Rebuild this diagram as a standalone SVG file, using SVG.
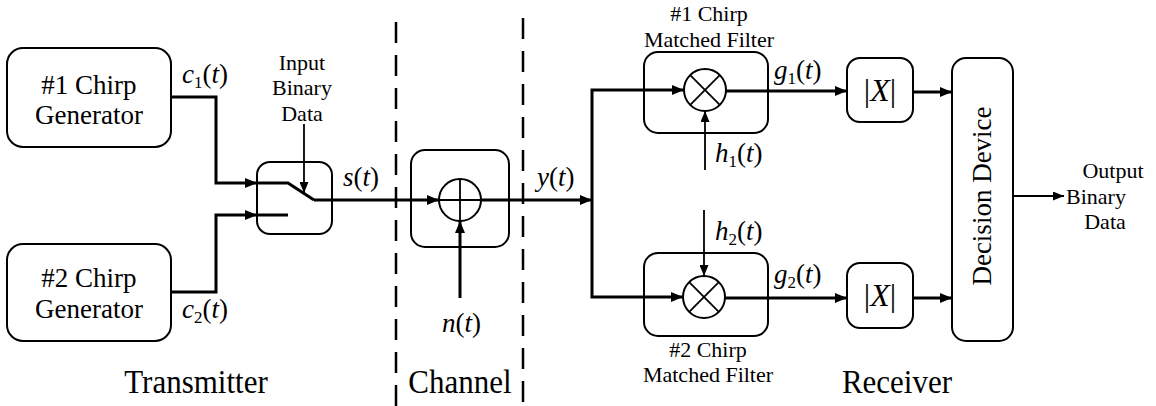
<svg xmlns="http://www.w3.org/2000/svg" width="1156" height="406" viewBox="0 0 1156 406" font-family="Liberation Serif">
<defs>
<marker id="ah" viewBox="0 0 12 10" refX="12" refY="5" markerWidth="12" markerHeight="10" markerUnits="userSpaceOnUse" orient="auto"><path d="M0,0 L12,5 L0,10 z" fill="#000"/></marker>
<marker id="ahs" viewBox="0 0 11 9" refX="11" refY="4.5" markerWidth="11" markerHeight="9" markerUnits="userSpaceOnUse" orient="auto"><path d="M0,0 L11,4.5 L0,9 z" fill="#000"/></marker>
</defs>
<style>
text{font-family:"Liberation Serif","Times New Roman",serif;fill:#000}
.box{fill:#fff;stroke:#000;stroke-width:2}
.lbl{font-size:27px;text-anchor:middle}
.sm{font-size:22px;text-anchor:middle}
.big{font-size:31px;text-anchor:middle}
.m{font-size:27px}
.ab{font-size:32px;text-anchor:middle}
.i{font-style:italic}
.sub{font-size:17px}
.thick{fill:none;stroke:#000;stroke-width:3}
.thin{fill:none;stroke:#000;stroke-width:1.8}
.dash{fill:none;stroke:#000;stroke-width:2.5;stroke-dasharray:21 12}
.circ{fill:#fff;stroke:#000;stroke-width:2}
</style>
<rect width="1156" height="406" fill="#fff"/>

<g id="dividers">
<line class="dash" x1="396" y1="22" x2="396" y2="406"/>
<line class="dash" x1="523" y1="18" x2="523" y2="406"/>
</g>

<g id="gen1">
<rect class="box" x="7" y="48" width="164" height="99" rx="16"/>
<text class="lbl" x="89" y="94">#1 Chirp</text>
<text class="lbl" x="89" y="124">Generator</text>
</g>
<g id="gen2">
<rect class="box" x="7" y="244" width="164" height="97" rx="16"/>
<text class="lbl" x="89" y="287">#2 Chirp</text>
<text class="lbl" x="89" y="318">Generator</text>
</g>

<g id="switch">
<rect class="box" x="257" y="162" width="75" height="72" rx="13"/>
</g>

<g id="adder">
<rect class="box" x="411" y="150" width="98" height="97" rx="14"/>
<circle class="circ" cx="460" cy="200" r="21"/>
<line class="thin" x1="460" y1="179" x2="460" y2="221"/>
<line class="thin" x1="439" y1="200" x2="481" y2="200"/>
</g>

<g id="mf1">
<rect class="box" x="644" y="52" width="124" height="81" rx="14"/>
<circle class="circ" cx="705" cy="90" r="21"/>
<line class="thin" x1="690.2" y1="75.2" x2="719.8" y2="104.8"/>
<line class="thin" x1="719.8" y1="75.2" x2="690.2" y2="104.8"/>
</g>
<g id="mf2">
<rect class="box" x="644" y="253" width="124" height="83" rx="14"/>
<circle class="circ" cx="704" cy="297" r="21"/>
<line class="thin" x1="689.2" y1="282.2" x2="718.8" y2="311.8"/>
<line class="thin" x1="718.8" y1="282.2" x2="689.2" y2="311.8"/>
</g>

<g id="abs1">
<rect class="box" x="847" y="58" width="66" height="64" rx="13"/>
<text class="ab" x="880" y="101">|<tspan class="i">X</tspan>|</text>
</g>
<g id="abs2">
<rect class="box" x="847" y="263" width="66" height="65" rx="13"/>
<text class="ab" x="880" y="306">|<tspan class="i">X</tspan>|</text>
</g>

<g id="decision">
<rect class="box" x="952" y="58" width="61" height="283" rx="14"/>
<text class="lbl" transform="translate(991,196) rotate(-90)" x="0" y="0">Decision Device</text>
</g>

<g id="connectors">
<polyline class="thick" points="171,97 216,97 216,183 257,183" marker-end="url(#ah)"/>
<polyline class="thick" points="171,292 216,292 216,215 257,215" marker-end="url(#ah)"/>
<polyline class="thick" points="257,183 288,183 314,200"/>
<line class="thick" x1="257" y1="215" x2="288" y2="215"/>
<line class="thin" x1="304" y1="124" x2="304" y2="193" marker-end="url(#ahs)"/>
<line class="thick" x1="314" y1="200" x2="439" y2="200" marker-end="url(#ah)"/>
<line class="thick" x1="460" y1="298" x2="460" y2="221" marker-end="url(#ah)"/>
<line class="thick" x1="481" y1="200" x2="592" y2="200" marker-end="url(#ah)"/>
<polyline class="thick" points="592,200 592,90 684,90" marker-end="url(#ah)"/>
<polyline class="thick" points="592,200 592,297 683,297" marker-end="url(#ah)"/>
<line class="thin" x1="705" y1="170" x2="705" y2="111" marker-end="url(#ahs)"/>
<line class="thin" x1="704" y1="210" x2="704" y2="276" marker-end="url(#ahs)"/>
<line class="thick" x1="726" y1="91" x2="847" y2="91" marker-end="url(#ah)"/>
<line class="thick" x1="725" y1="298" x2="847" y2="298" marker-end="url(#ah)"/>
<line class="thick" x1="913" y1="92" x2="952" y2="92" marker-end="url(#ah)"/>
<line class="thick" x1="913" y1="298" x2="952" y2="298" marker-end="url(#ah)"/>
<line class="thin" x1="1013" y1="196" x2="1064" y2="196" marker-end="url(#ahs)"/>
</g>

<g id="labels">
<text class="m" x="182" y="83"><tspan class="i">c</tspan><tspan class="sub" dy="5">1</tspan><tspan dy="-5">(</tspan><tspan class="i">t</tspan>)</text>
<text class="m" x="182" y="318"><tspan class="i">c</tspan><tspan class="sub" dy="5">2</tspan><tspan dy="-5">(</tspan><tspan class="i">t</tspan>)</text>
<text class="sm" x="302" y="70">Input</text>
<text class="sm" x="302" y="95">Binary</text>
<text class="sm" x="302" y="121">Data</text>
<text class="m" x="343" y="186"><tspan class="i">s</tspan>(<tspan class="i">t</tspan>)</text>
<text class="m" x="442" y="332"><tspan class="i">n</tspan>(<tspan class="i">t</tspan>)</text>
<text class="m" x="537" y="186"><tspan class="i">y</tspan>(<tspan class="i">t</tspan>)</text>
<text class="sm" x="709" y="21">#1 Chirp</text>
<text class="sm" x="709" y="47">Matched Filter</text>
<text class="sm" x="708" y="357">#2 Chirp</text>
<text class="sm" x="708" y="382">Matched Filter</text>
<text class="m" x="715" y="162"><tspan class="i">h</tspan><tspan class="sub" dy="5">1</tspan><tspan dy="-5">(</tspan><tspan class="i">t</tspan>)</text>
<text class="m" x="715" y="240"><tspan class="i">h</tspan><tspan class="sub" dy="5">2</tspan><tspan dy="-5">(</tspan><tspan class="i">t</tspan>)</text>
<text class="m" x="774" y="79"><tspan class="i">g</tspan><tspan class="sub" dy="5">1</tspan><tspan dy="-5">(</tspan><tspan class="i">t</tspan>)</text>
<text class="m" x="774" y="283"><tspan class="i">g</tspan><tspan class="sub" dy="5">2</tspan><tspan dy="-5">(</tspan><tspan class="i">t</tspan>)</text>
<text class="sm" x="1113" y="178">Output</text>
<text class="sm" x="1096" y="204">Binary</text>
<text class="sm" x="1105" y="229">Data</text>
<text class="big" transform="scale(1,1.12)" x="196" y="351">Transmitter</text>
<text class="big" transform="scale(1,1.12)" x="460" y="351">Channel</text>
<text class="big" transform="scale(1,1.12)" x="897" y="351">Receiver</text>
</g>
</svg>
